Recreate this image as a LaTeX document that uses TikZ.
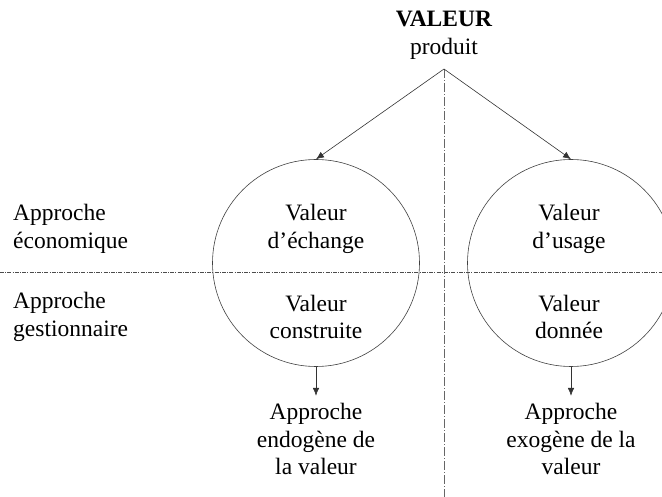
\documentclass[tikz,border=0pt]{standalone}
\usepackage{fontspec}
\setmainfont{Liberation Serif}
\usetikzlibrary{arrows.meta, positioning, calc}
\tikzset{
  txt/.style={align=center, inner sep=0pt, font=\fontsize{23.5}{27.5}\selectfont},
  lbl/.style={align=left, inner sep=0pt, anchor=west, font=\fontsize{23.5}{27.5}\selectfont},
  bulle/.style={draw, circle, minimum size=207pt, inner sep=0pt, line width=0.6pt, black!75},
  arr/.style={-{Latex[length=2.8mm, width=2.3mm]}, line width=0.6pt, black!80},
  sep/.style={line width=0.6pt, black!70, dash pattern=on 4pt off 1.2pt on 1pt off 1.2pt},
  axe/.style={line width=0.5pt, black!60, dash pattern=on 9pt off 2pt on 1pt off 2pt},
}

\begin{document}
\begin{tikzpicture}[x=1pt, y=-1pt]
    \useasboundingbox (0,0) rectangle (662,497);
    \begin{scope}
    \clip (0,0) rectangle (662,497);
    \node[txt] (titre) at (444,35) {\textbf{VALEUR}\\produit};
    \coordinate (sommet) at (444,69);
    \coordinate (bas) at (444,497);
    \node[bulle] (echange) at (316,263) {};
    \node[bulle] (usage) at (571,263) {};
    \coordinate (g) at (0,272);
    \coordinate (d) at (662,272);
    \draw[sep] (g) -- (d);
    \draw[axe] (sommet) -- (bas);
    \draw[arr] (sommet) -- (echange.north);
    \draw[arr] (sommet) -- (usage.north);
    % textes des cercles
    \node[txt] (ve) at (316,229) {Valeur\\d'échange};
    \node[txt] (vc) at (316,317) {Valeur\\construite};
    \node[txt] (vu) at (569,229) {Valeur\\d'usage};
    \node[txt] (vd) at (569,317) {Valeur\\donnée};
    % approches
    \node[lbl] (eco) at (13,229) {Approche\\économique};
    \node[lbl] (gest) at (13,317) {Approche\\gestionnaire};
    \node[txt, anchor=north] (endo) at (316,403) {Approche\\endogène de\\la valeur};
    \node[txt, anchor=north] (exo) at (571,403) {Approche\\exogène de la\\valeur};
    \draw[arr] (echange.south) -- ++(0,29);
    \draw[arr] (usage.south) -- ++(0,29);
    \end{scope}
\end{tikzpicture}
\end{document}
